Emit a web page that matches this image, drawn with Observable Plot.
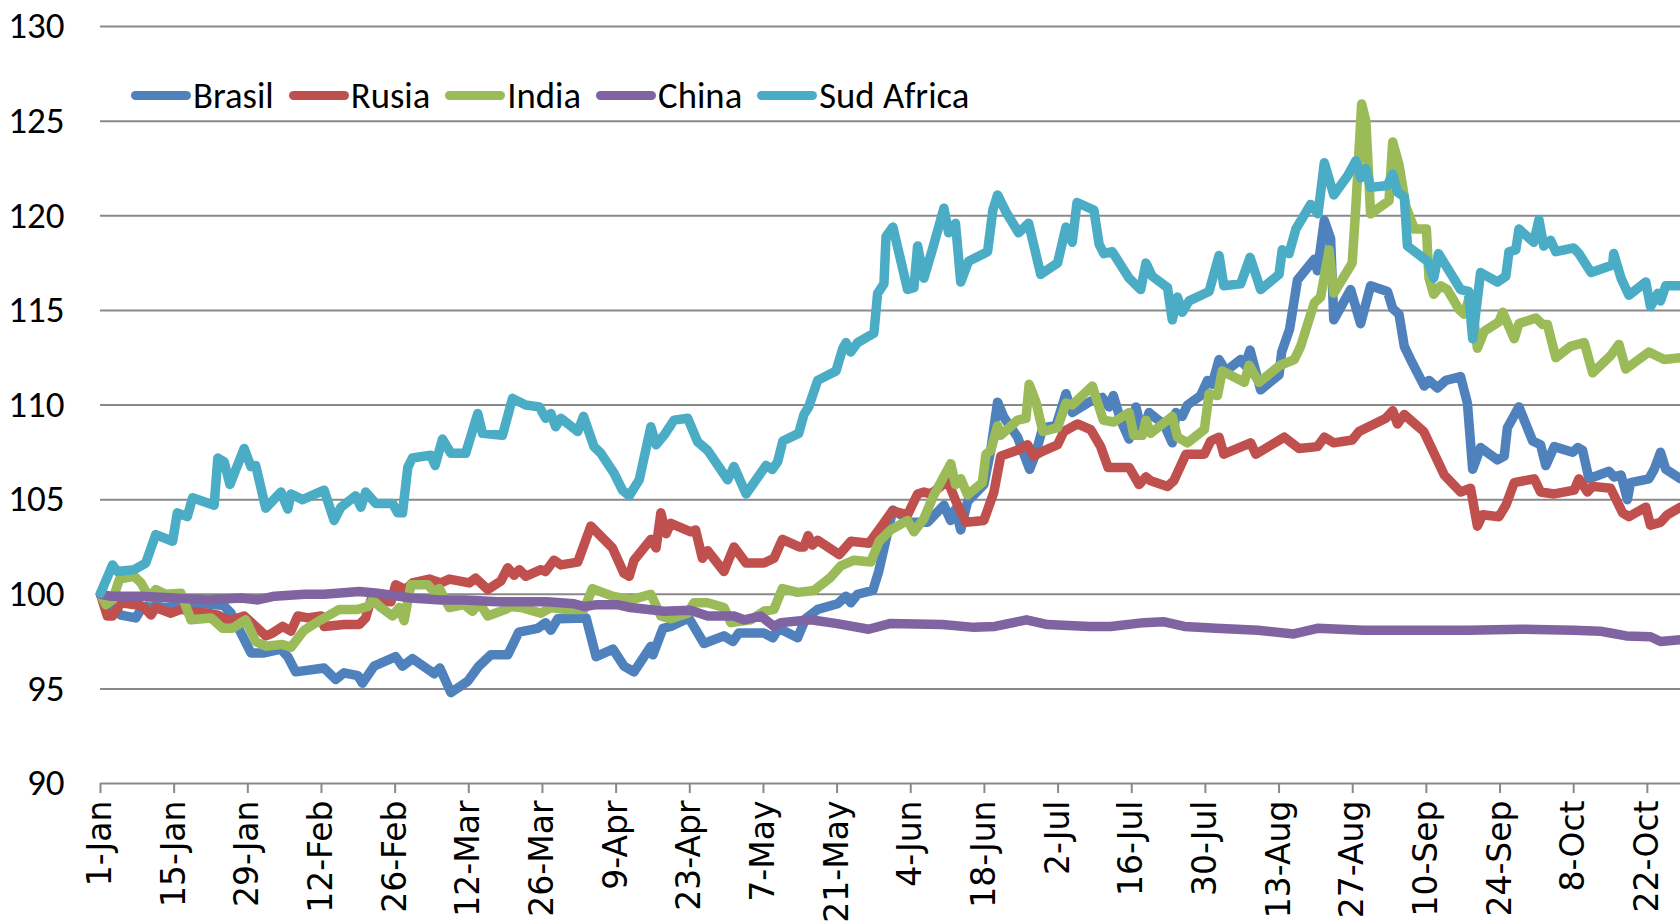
<!DOCTYPE html>
<html>
<head>
<meta charset="utf-8">
<script src="https://cdn.jsdelivr.net/npm/d3@7"></script>
<script src="https://cdn.jsdelivr.net/npm/@observablehq/plot@0.6"></script>
<style>
  html, body { margin: 0; padding: 0; background: #fff; overflow: hidden; }
  #wrap { position: relative; width: 1680px; height: 924px; }
  #legend { position: absolute; left: 131px; top: 73px; display: flex; align-items: center;
            font-family: Carlito, "Liberation Sans Narrow", "Arial Narrow", "DejaVu Sans Condensed", sans-serif;
            font-size: 36.7px; color: #000; white-space: nowrap; }
  .item { display: flex; align-items: center; margin-right: 15px; }
  .sw { display: inline-block; width: 60px; height: 9.5px; border-radius: 4.75px; margin-right: 2px; }
</style>
</head>
<body>
<div id="wrap"><div id="legend"></div></div>
<script>
// ---- data (day offset from 1-Jan, index value) ----
const seriesNames = ["Brasil", "Rusia", "India", "China", "Sud Africa"];
const seriesColors = ["#4F81BD", "#C0504D", "#9BBB59", "#8064A2", "#4BACC6"];
const yTicks = [90, 95, 100, 105, 110, 115, 120, 125, 130];
const xTickLabels = ["1-Jan","15-Jan","29-Jan","12-Feb","26-Feb","12-Mar","26-Mar","9-Apr","23-Apr","7-May","21-May",
  "4-Jun","18-Jun","2-Jul","16-Jul","30-Jul","13-Aug","27-Aug","10-Sep","24-Sep","8-Oct","22-Oct"];

const brasil = [[0,100],[1.3,99.5],[3.9,98.9],[6.7,98.75],[7.7,99.2],[9.3,99.45],[12,99.3],[16.6,99.4],[20,99.5],[23.4,99.4],[24.8,99.0],[28.6,96.9],[31.1,96.9],[34.3,97.1],[35.6,96.7],[37.1,95.9],[42.5,96.1],[44.7,95.5],[46.3,95.85],[48.9,95.7],[49.8,95.3],[52.0,96.2],[56.1,96.7],[57.4,96.2],[59.3,96.6],[63.4,95.8],[64.5,96.1],[66.6,94.8],[69.8,95.4],[71.9,96.2],[74.2,96.8],[77.4,96.8],[79.5,98.0],[83.1,98.2],[84.6,98.5],[85.6,98.1],[86.9,98.7],[92.3,98.75],[94.2,96.7],[97.4,97.1],[99.5,96.2],[101.4,95.9],[104.6,97.25],[105.0,96.8],[106.9,98.2],[108.4,98.3],[111.8,98.75],[114.7,97.4],[118.5,97.8],[120.2,97.5],[121.3,97.95],[126.1,97.95],[127.8,97.7],[128.9,98.2],[132.5,97.7],[134.0,98.7],[136.3,99.2],[140.1,99.5],[141.7,99.9],[142.6,99.55],[143.9,100.0],[146.8,100.2],[147.9,101.2],[149.3,102.9],[150.6,104.45],[152.7,104.1],[154.0,103.8],[157.2,103.8],[160.3,104.7],[161.6,103.9],[162.5,104.5],[163.5,103.4],[164.8,104.9],[167.9,105.8],[169.2,107.6],[170.5,110.15],[171.7,109.35],[174.3,108.3],[175.5,107.4],[176.6,106.6],[177.7,107.4],[179.1,108.8],[181.6,108.9],[183.5,110.6],[184.7,109.6],[188.2,110.2],[190.4,110.4],[191.7,109.9],[192.5,110.5],[193.9,109.2],[195.5,108.2],[196.8,109.9],[198.0,108.5],[199.3,109.6],[200.6,109.3],[202.1,109.0],[203.7,108.0],[204.4,109.6],[205.6,109.4],[206.6,110.0],[209.1,110.5],[210.4,111.3],[211.3,111.1],[212.6,112.4],[213.9,111.8],[216.7,112.4],[217.5,112.1],[218.5,112.9],[220.5,110.8],[224.0,111.6],[224.5,112.8],[226.0,114.0],[227.5,116.6],[230.7,117.7],[231.3,117.1],[232.6,119.75],[233.8,118.8],[234.4,114.5],[237.6,116.1],[239.5,114.3],[241.4,116.3],[244.6,116.0],[245.6,115.1],[246.8,114.8],[247.8,113.1],[249.0,112.4],[251.6,111.0],[252.5,111.3],[254.1,110.9],[255.7,111.3],[258.5,111.5],[259.8,110.1],[260.8,106.6],[262.3,107.75],[265.5,107.1],[266.8,107.3],[267.4,108.8],[269.6,109.9],[272.2,108.1],[273.7,107.9],[274.7,106.8],[276.3,107.8],[279.8,107.5],[280.8,107.75],[281.7,107.6],[282.9,106.1],[286.7,106.5],[287.7,106.2],[289.0,106.3],[290.2,105.0],[290.8,105.9],[294.3,106.1],[295.3,106.6],[296.5,107.5],[297.5,106.6],[300.3,106.1]];

const rusia = [[0,100],[1.3,98.85],[2.3,98.85],[3.9,99.55],[7.7,99.4],[8.6,99.2],[9.6,98.9],[10.5,99.3],[13.4,99.0],[15.3,99.2],[17.5,99.1],[20.4,99.0],[22.3,98.9],[24.5,98.6],[27.3,98.85],[29.5,98.3],[31.4,97.8],[32.7,97.95],[34.6,98.3],[36.2,98.05],[37.5,98.85],[39.4,98.75],[41.9,98.85],[42.5,98.3],[46.3,98.4],[49.2,98.4],[50.4,98.75],[51.4,99.7],[55.2,99.6],[56.1,100.5],[58.0,100.25],[59.3,100.6],[62.5,100.8],[64.7,100.6],[66.3,100.8],[70.1,100.6],[71.3,100.85],[73.6,100.25],[76.1,100.7],[77.4,101.4],[78.6,101.0],[79.6,101.3],[80.8,100.95],[83.7,101.3],[84.6,101.2],[86.2,101.8],[87.5,101.55],[90.7,101.7],[93.2,103.6],[97.3,102.45],[99.5,101.1],[100.5,100.95],[101.4,101.8],[104.6,102.9],[105.6,102.45],[106.5,104.3],[107.5,103.2],[108.4,103.75],[112.2,103.3],[113.1,103.4],[114.4,101.9],[115.4,102.3],[118.5,101.2],[120.4,102.5],[122.7,101.65],[126.1,101.65],[128.0,101.9],[129.6,102.9],[132.8,102.5],[133.7,102.5],[134.5,103.1],[135.3,102.6],[136.3,102.85],[140.4,102.1],[142.6,102.8],[146.1,102.7],[148.6,103.65],[150.5,104.4],[153.4,104.2],[155.3,105.3],[156.5,105.4],[157.8,105.3],[159.7,105.7],[161.0,106.0],[162.6,104.9],[164.5,103.8],[167.9,103.9],[169.8,105.4],[171.1,107.3],[174.6,107.65],[176.2,107.9],[177.4,107.3],[178.6,107.5],[181.9,107.9],[183.1,108.6],[185.7,109.0],[188.2,108.7],[190.1,107.8],[191.5,106.7],[195.5,106.7],[197.4,105.8],[198.7,106.2],[199.6,106.0],[202.8,105.7],[204.0,106.0],[206.3,107.4],[209.8,107.4],[211.0,108.1],[212.6,108.3],[213.5,107.4],[218.6,108.0],[219.6,107.4],[225.0,108.3],[227.8,107.7],[231.3,107.8],[232.6,108.3],[234.4,108.0],[237.9,108.15],[239.2,108.6],[242.1,109.0],[244.3,109.3],[245.6,109.7],[246.5,109.0],[247.8,109.5],[249.0,109.2],[251.5,108.6],[255.4,106.3],[258.5,105.4],[260.4,105.6],[261.7,103.6],[262.7,104.2],[265.8,104.1],[267.1,104.7],[268.7,105.9],[272.5,106.1],[273.7,105.4],[276.3,105.3],[280.1,105.5],[281.0,106.1],[282.6,105.4],[283.6,105.7],[287.0,105.6],[289.3,104.3],[290.5,104.1],[293.7,104.6],[294.6,103.65],[296.5,103.8],[297.8,104.2],[300.3,104.6]];

const india = [[0,100],[1,99.45],[2.3,99.7],[3.6,100.8],[6.4,100.95],[7.7,100.6],[9.3,99.8],[10.5,100.25],[12.4,100.0],[15.3,100.05],[17.2,98.65],[21.0,98.75],[23.2,98.2],[25.1,98.2],[27.6,98.65],[29.5,97.5],[31.4,97.25],[34.6,97.35],[36.2,97.2],[38.7,98.1],[41.9,98.65],[45.4,99.2],[48.9,99.2],[50.8,99.35],[51.7,99.7],[53.3,99.3],[55.5,98.85],[56.8,99.3],[57.7,98.6],[59.0,100.5],[62.2,100.5],[63.4,100.15],[64.4,100.3],[66.3,99.3],[69.1,99.45],[70.7,99.1],[72.0,99.55],[73.6,98.85],[77.0,99.2],[78.0,99.35],[79.9,99.3],[83.7,99.0],[85.6,99.3],[88.1,99.2],[91.9,99.2],[93.5,100.3],[97.3,99.9],[100.8,99.7],[104.6,100.0],[106.5,98.85],[108.4,98.7],[111.6,99.0],[112.8,99.55],[115.4,99.55],[118.5,99.3],[119.8,98.5],[123.6,98.65],[126.1,99.1],[128.0,99.2],[129.6,100.3],[132.5,100.1],[135.6,100.2],[138.8,100.9],[140.7,101.5],[143.2,101.8],[146.4,101.7],[148.0,102.8],[150.2,103.4],[153.4,103.9],[154.6,103.3],[156.5,104.0],[158.4,105.25],[161.6,106.9],[162.5,105.8],[163.5,106.1],[164.8,105.25],[167.6,105.9],[168.3,107.4],[169.2,107.6],[170.5,108.9],[171.1,108.4],[174.3,109.2],[175.9,109.3],[176.5,111.1],[177.8,110.15],[179.1,108.6],[181.9,108.8],[183.5,110.1],[184.7,110.0],[188.5,111.0],[190.6,109.2],[192.6,109.1],[195.5,109.6],[196.4,108.4],[198.0,108.4],[198.7,109.2],[199.6,108.5],[203.7,109.4],[204.7,108.3],[206.6,108.0],[209.8,108.7],[210.7,110.6],[212.3,110.5],[213.2,111.8],[217.4,111.2],[218.3,112.1],[220.2,111.2],[224.2,112.1],[226.9,112.4],[228.1,113.1],[230.7,115.4],[231.9,115.7],[233.5,118.2],[234.4,115.9],[237.9,117.5],[238.6,120.5],[239.7,125.9],[240.5,125.0],[241.4,120.1],[244.9,120.8],[245.6,123.9],[246.8,122.7],[248.1,120.5],[249.7,119.3],[252.0,119.3],[252.5,116.7],[253.4,115.85],[254.7,116.3],[256.0,116.1],[258.2,115.05],[259.2,114.8],[260.4,115.9],[261.7,113.0],[263.0,113.9],[265.8,114.4],[266.5,114.9],[268.7,113.5],[269.6,114.3],[272.8,114.6],[274.1,114.25],[275.0,114.25],[276.6,112.5],[279.4,113.1],[282.0,113.3],[283.6,111.7],[287.0,112.6],[288.6,113.2],[289.9,111.9],[294.3,112.8],[297.2,112.4],[300.3,112.5]];

const china = [[0,100],[1.9,99.9],[7.7,99.9],[14.1,99.8],[20.4,99.7],[26.7,99.8],[29.9,99.7],[33.1,99.9],[38.8,100.0],[42.5,100.0],[49.2,100.15],[52.7,100.05],[59,99.8],[64.7,99.7],[69.1,99.7],[75.4,99.6],[84.9,99.6],[90,99.5],[91.9,99.35],[94.4,99.45],[98.2,99.45],[100.7,99.3],[107.1,99.1],[112.1,99.15],[115.4,98.85],[120.4,98.85],[122.3,98.65],[125.5,98.85],[128.0,98.3],[129.3,98.5],[135,98.65],[140,98.45],[146,98.15],[150,98.45],[160,98.4],[166,98.25],[170,98.3],[176,98.65],[180,98.4],[188,98.3],[192,98.3],[198.3,98.5],[202,98.55],[206,98.3],[212,98.2],[220,98.1],[226.8,97.9],[231.3,98.2],[240,98.1],[250,98.1],[260,98.1],[270,98.15],[280,98.1],[285,98.05],[287,97.95],[290,97.8],[294.6,97.75],[296.5,97.5],[300.3,97.6]];

const sudAfrica = [[0,100.05],[2.3,101.55],[3.2,101.2],[6.4,101.3],[8.6,101.65],[10.5,103.15],[13.7,102.8],[14.6,104.3],[16.5,104.1],[17.5,105.1],[21.6,104.7],[22.3,107.2],[23.5,107.0],[24.6,105.8],[27.3,107.7],[28.6,106.75],[29.5,106.8],[31.4,104.55],[34.3,105.4],[35.6,104.5],[36.2,105.3],[38.4,105.0],[42.5,105.5],[44.4,103.9],[45.7,104.6],[48.5,105.2],[49.5,104.6],[50.4,105.4],[52.3,104.8],[55.5,104.8],[56.5,104.3],[57.4,104.3],[58.4,106.7],[59.3,107.2],[62.8,107.35],[63.6,106.8],[65.0,108.2],[66.6,107.45],[69.4,107.45],[71.7,109.55],[72.6,108.5],[76.4,108.4],[78.3,110.35],[80.8,110.0],[83.4,109.9],[84.6,109.3],[85.6,109.55],[86.5,108.85],[87.5,109.3],[90.7,108.6],[91.8,109.4],[93.8,107.8],[95.1,107.45],[97.6,106.4],[99.2,105.5],[100.5,105.2],[102.4,106.05],[104.6,108.85],[105.6,107.9],[107.1,108.4],[109.0,109.2],[111.6,109.3],[113.5,108.05],[115.4,107.6],[119.2,106.05],[120.4,106.75],[122.7,105.3],[126.5,106.8],[127.7,106.6],[128.7,107.0],[129.7,108.1],[132.7,108.5],[133.7,109.5],[134.6,109.9],[136.3,111.3],[139.8,111.8],[141.1,113.0],[141.7,113.3],[142.6,112.8],[143.9,113.3],[147.0,113.8],[147.7,115.9],[148.9,116.4],[149.3,118.9],[150.6,119.4],[153.4,116.1],[154.6,116.2],[155.3,118.4],[156.5,116.7],[158.2,118.3],[160.3,120.4],[161.2,119.1],[162.5,119.6],[163.5,116.5],[165.0,117.6],[168.6,118.1],[169.6,120.3],[170.5,121.1],[172.1,120.2],[174.5,119.1],[176.4,119.6],[178.7,116.9],[181.9,117.5],[183.5,119.4],[184.7,118.6],[185.6,120.7],[188.8,120.3],[189.8,118.5],[190.7,118.0],[192.3,118.1],[195.5,116.7],[197.7,116.1],[198.7,117.5],[199.9,116.8],[202.8,116.2],[203.7,114.5],[204.7,115.7],[205.6,114.9],[206.9,115.5],[210.7,116.0],[212.6,117.9],[213.5,116.3],[216.7,116.4],[218.5,117.8],[220.5,116.1],[224.0,116.9],[224.6,118.2],[225.9,118.0],[227.2,119.3],[230.0,120.6],[231.4,120.1],[232.6,122.8],[234.4,121.1],[237.0,122.1],[238.6,122.9],[239.5,122.0],[240.5,122.5],[241.4,121.5],[244.6,121.6],[245.6,122.2],[246.5,121.25],[247.8,121.0],[248.4,118.4],[252.2,117.6],[253.4,116.7],[254.3,118.0],[258.5,116.1],[260.0,116.0],[260.8,113.5],[262.3,117.0],[265.5,116.5],[267.1,116.8],[267.7,118.1],[269.0,118.2],[269.6,119.3],[272.4,118.6],[273.4,119.8],[274.3,118.4],[275.6,118.7],[276.6,118.1],[280.0,118.3],[281.0,118.0],[283.3,117.0],[287.4,117.4],[287.6,118.0],[289.0,116.7],[290.5,115.8],[293.7,116.5],[294.6,115.2],[296.0,115.9],[296.5,115.5],[297.5,116.3],[300.3,116.3]];

// ---- build table ----
const start = Date.UTC(2013, 0, 1);
const toDate = d => new Date(start + d * 864e5);
const allSeries = [brasil, rusia, india, china, sudAfrica];
const rows = allSeries.flatMap((arr, i) => arr.map(([d, v]) => ({series: seriesNames[i], date: toDate(d), value: v})));
const parseTick = d3.utcParse("%d-%b-%Y");
const xTicks = xTickLabels.map(s => parseTick(s + "-2013"));

const gridColor = "#898989";
const narrowFont = 'Carlito, "Liberation Sans Narrow", "Arial Narrow", "DejaVu Sans Condensed", sans-serif';

const chart = Plot.plot({
  width: 1680,
  height: 924,
  marginLeft: 100,
  marginRight: 0,
  marginTop: 26,
  marginBottom: 141,
  style: {background: "white", overflow: "hidden"},
  x: {type: "utc", domain: [toDate(0), toDate(300.3)], label: null},
  y: {domain: [90, 130], label: null},
  color: {domain: seriesNames, range: seriesColors},
  marks: [
    Plot.ruleY(yTicks, {stroke: gridColor, strokeWidth: 2}),
    Plot.axisX({
      ticks: xTicks, tickFormat: d3.utcFormat("%-d-%b"), tickRotate: -90,
      tickSize: 10, tickPadding: 7, fontSize: 33, fontFamily: "DejaVu Sans",
      stroke: gridColor, strokeWidth: 2, fill: "black", label: null
    }),
    Plot.axisY({
      ticks: yTicks, tickSize: 0, tickPadding: 36, fontSize: 37, fontFamily: narrowFont,
      fill: "black", label: null
    }),
    Plot.line(rows, {
      x: "date", y: "value", z: "series", stroke: "series",
      strokeWidth: 9.5, strokeLinejoin: "round", strokeLinecap: "round"
    })
  ]
});
document.getElementById("wrap").prepend(chart);

// legend
const legend = document.getElementById("legend");
seriesNames.forEach((name, i) => {
  const item = document.createElement("div");
  item.className = "item";
  const sw = document.createElement("span");
  sw.className = "sw";
  sw.style.background = seriesColors[i];
  const label = document.createElement("span");
  label.textContent = name;
  item.append(sw, label);
  legend.append(item);
});
</script>
</body>
</html>
